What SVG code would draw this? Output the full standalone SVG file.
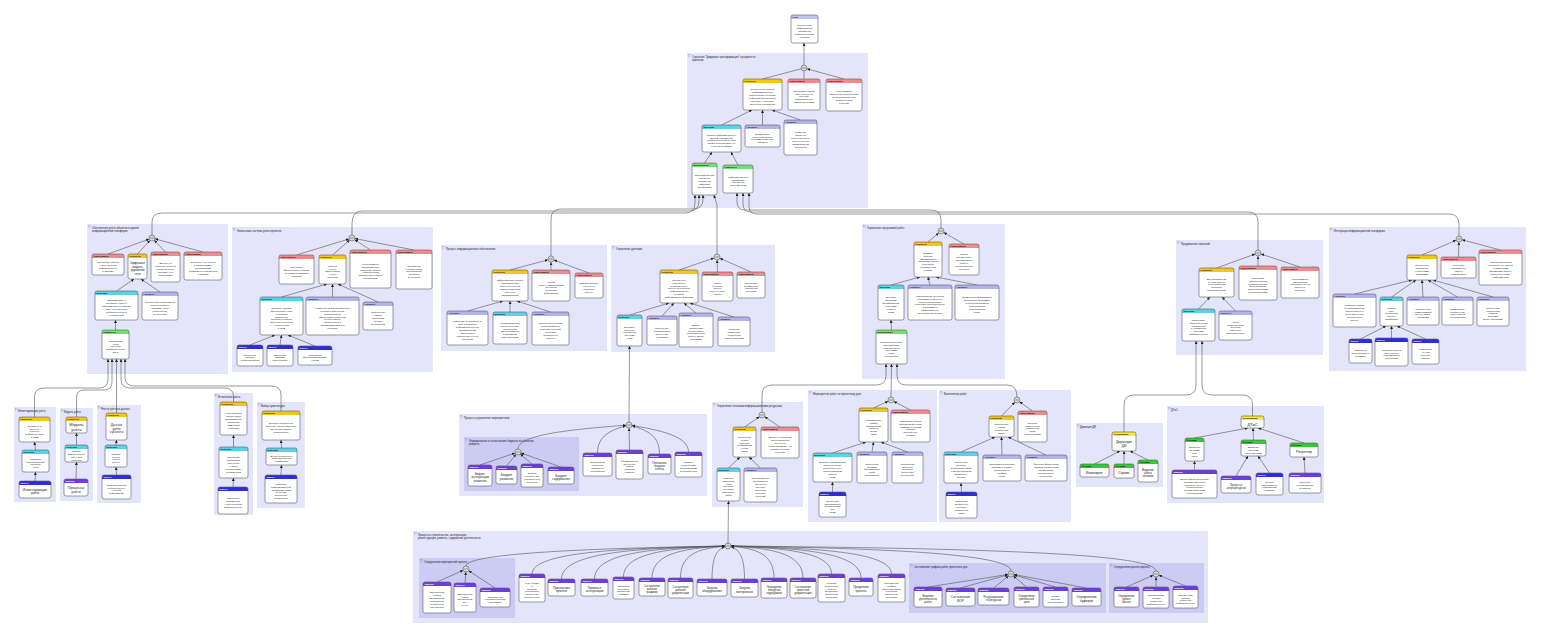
<svg xmlns="http://www.w3.org/2000/svg" width="1541" height="638" viewBox="0 0 1541 638">
<style>
text{font-family:"Liberation Sans",Arial,sans-serif}
.b{stroke:#5a5a5a;stroke-width:.6}
.h{font-size:2.3px;font-weight:bold;fill:#111}
.hw{fill:#fff}
.t{font-size:2.4px;text-anchor:middle;fill:#222}
.f26{font-size:2.6px}.f28{font-size:2.8px}.f3{font-size:3px}.f32{font-size:3.2px}.f34{font-size:3.4px}.f36{font-size:3.6px}.f4{font-size:4px}
.cl{fill:#e4e4fa}.cn{fill:#cbcbf3}
.ic{fill:none;stroke:#8a8ad0;stroke-width:.3}
.cll{font-size:2.6px;fill:#222}
.e,.ej{fill:none;stroke:#555;stroke-width:.6}
.e{marker-end:url(#a)}.ej{marker-end:url(#aj)}
.jc{fill:#d4dcd4;stroke:#444;stroke-width:.5}
.jl{stroke:#444;stroke-width:.5}
</style>
<defs>
<marker id="a" viewBox="0 0 10 10" refX="10" refY="5" markerWidth="3" markerHeight="3" orient="auto" markerUnits="userSpaceOnUse"><path d="M0,0L10,5L0,10z" fill="#222"/></marker>
<marker id="aj" viewBox="0 0 10 10" refX="20.7" refY="5" markerWidth="3" markerHeight="3" orient="auto" markerUnits="userSpaceOnUse"><path d="M0,0L10,5L0,10z" fill="#222"/></marker>
<g id="jn"><circle r="3" class="jc"/><path d="M-1.8,0H1.8" class="jl"/></g>
<linearGradient id="gC" gradientUnits="userSpaceOnUse" x1="0" y1="0" x2="0" y2="10"><stop offset=".42" stop-color="#c4c4f4"/><stop offset=".42" stop-color="#fff"/></linearGradient>
<linearGradient id="gR" gradientUnits="userSpaceOnUse" x1="0" y1="0" x2="0" y2="10"><stop offset=".42" stop-color="#f5c518"/><stop offset=".42" stop-color="#fff"/></linearGradient>
<linearGradient id="gO" gradientUnits="userSpaceOnUse" x1="0" y1="0" x2="0" y2="10"><stop offset=".42" stop-color="#f4898b"/><stop offset=".42" stop-color="#fff"/></linearGradient>
<linearGradient id="gD" gradientUnits="userSpaceOnUse" x1="0" y1="0" x2="0" y2="10"><stop offset=".42" stop-color="#5ad2ea"/><stop offset=".42" stop-color="#fff"/></linearGradient>
<linearGradient id="gA" gradientUnits="userSpaceOnUse" x1="0" y1="0" x2="0" y2="10"><stop offset=".42" stop-color="#b3b3ef"/><stop offset=".42" stop-color="#fff"/></linearGradient>
<linearGradient id="gP" gradientUnits="userSpaceOnUse" x1="0" y1="0" x2="0" y2="10"><stop offset=".42" stop-color="#2d2de0"/><stop offset=".42" stop-color="#fff"/></linearGradient>
<linearGradient id="gM" gradientUnits="userSpaceOnUse" x1="0" y1="0" x2="0" y2="10"><stop offset=".42" stop-color="#74e074"/><stop offset=".42" stop-color="#fff"/></linearGradient>
<linearGradient id="gF" gradientUnits="userSpaceOnUse" x1="0" y1="0" x2="0" y2="10"><stop offset=".42" stop-color="#2fcf2f"/><stop offset=".42" stop-color="#fff"/></linearGradient>
<linearGradient id="gT" gradientUnits="userSpaceOnUse" x1="0" y1="0" x2="0" y2="10"><stop offset=".42" stop-color="#6b3be6"/><stop offset=".42" stop-color="#fff"/></linearGradient>
<linearGradient id="gY" gradientUnits="userSpaceOnUse" x1="0" y1="0" x2="0" y2="10"><stop offset=".42" stop-color="#f7ef1a"/><stop offset=".42" stop-color="#fff"/></linearGradient>
</defs>
<rect width="1541" height="638" fill="#fff"/>

<g id="clusters">
<g id="cl_main"><rect class="cl" x="687" y="53" width="181" height="155"/><rect class="ic" x="688.5" y="54.5" width="1.6" height="1.6"/><text class="cll" x="692" y="57.5">Стратегия "Цифровая трансформация" в разрезе по</text><text class="cll" x="692" y="60.5">проектам</text></g>
<g id="cl_a"><rect class="cl" x="87" y="224" width="141" height="150"/><rect class="ic" x="88.5" y="225.5" width="1.6" height="1.6"/><text class="cll" x="92" y="228.5">Обеспечение учёта объектов в единой</text><text class="cll" x="92" y="231.5">информационной платформе</text></g>
<g id="cl_b"><rect class="cl" x="232" y="227" width="201" height="145"/><rect class="ic" x="233.5" y="228.5" width="1.6" height="1.6"/><text class="cll" x="237" y="231.5">Финансовая система учёта проектов</text></g>
<g id="cl_c"><rect class="cl" x="441" y="245" width="166" height="106"/><rect class="ic" x="442.5" y="246.5" width="1.6" height="1.6"/><text class="cll" x="446" y="249.5">Процесс информационного обеспечения</text></g>
<g id="cl_d"><rect class="cl" x="611" y="245" width="164" height="107"/><rect class="ic" x="612.5" y="246.5" width="1.6" height="1.6"/><text class="cll" x="616" y="249.5">Управление данными</text></g>
<g id="cl_e"><rect class="cl" x="862" y="224" width="143" height="155"/><rect class="ic" x="863.5" y="225.5" width="1.6" height="1.6"/><text class="cll" x="867" y="228.5">Управление программой работ</text></g>
<g id="cl_f"><rect class="cl" x="1176" y="240" width="147" height="115"/><rect class="ic" x="1177.5" y="241.5" width="1.6" height="1.6"/><text class="cll" x="1181" y="244.5">Продвижение компаний</text></g>
<g id="cl_g"><rect class="cl" x="1329" y="227" width="197" height="144"/><rect class="ic" x="1330.5" y="228.5" width="1.6" height="1.6"/><text class="cll" x="1334" y="231.5">Интеграция информационной платформы</text></g>
<g id="cl_h"><rect class="cl" x="14" y="407" width="42" height="95"/><rect class="ic" x="15.5" y="408.5" width="1.6" height="1.6"/><text class="cll" x="18" y="411.5">Инвентаризация учёта</text></g>
<g id="cl_i"><rect class="cl" x="60" y="408" width="33" height="93"/><rect class="ic" x="61.5" y="409.5" width="1.6" height="1.6"/><text class="cll" x="64" y="412.5">Модель учёта</text></g>
<g id="cl_j"><rect class="cl" x="97" y="405" width="44" height="98"/><rect class="ic" x="98.5" y="406.5" width="1.6" height="1.6"/><text class="cll" x="101" y="409.5">Реестр учётных данных</text></g>
<g id="cl_k"><rect class="cl" x="214" y="393" width="39" height="122"/><rect class="ic" x="215.5" y="394.5" width="1.6" height="1.6"/><text class="cll" x="218" y="397.5">Исполнение учёта</text></g>
<g id="cl_l"><rect class="cl" x="257" y="402" width="48" height="106"/><rect class="ic" x="258.5" y="403.5" width="1.6" height="1.6"/><text class="cll" x="261" y="406.5">Выбор архитектуры</text></g>
<g id="cl_m"><rect class="cl" x="459" y="414" width="248" height="82"/><rect class="ic" x="460.5" y="415.5" width="1.6" height="1.6"/><text class="cll" x="464" y="418.5">Процессы управления мероприятием</text></g>
<g id="cl_m1"><rect class="cn" x="464" y="437" width="115" height="54"/><rect class="ic" x="465.5" y="438.5" width="1.6" height="1.6"/><text class="cll" x="469" y="441.5">Формирование и согласование бюджета по объектам</text><text class="cll" x="469" y="444.5">ремонта</text></g>
<g id="cl_n"><rect class="cl" x="712" y="402" width="91" height="105"/><rect class="ic" x="713.5" y="403.5" width="1.6" height="1.6"/><text class="cll" x="717" y="406.5">Управление сетевыми информационными ресурсами</text></g>
<g id="cl_o"><rect class="cl" x="808" y="390" width="129" height="132"/><rect class="ic" x="809.5" y="391.5" width="1.6" height="1.6"/><text class="cll" x="813" y="394.5">Мероприятия работ по проектному дню</text></g>
<g id="cl_p"><rect class="cl" x="939" y="390" width="132" height="132"/><rect class="ic" x="940.5" y="391.5" width="1.6" height="1.6"/><text class="cll" x="944" y="394.5">Выполнение работ</text></g>
<g id="cl_q"><rect class="cl" x="1076" y="423" width="87" height="64"/><rect class="ic" x="1077.5" y="424.5" width="1.6" height="1.6"/><text class="cll" x="1080" y="427.5">Дирекция ДИ</text></g>
<g id="cl_r"><rect class="cl" x="1167" y="406" width="157" height="97"/><rect class="ic" x="1168.5" y="407.5" width="1.6" height="1.6"/><text class="cll" x="1171" y="410.5">ДТиС</text></g>
<g id="cl_s"><rect class="cl" x="413" y="531" width="795" height="92"/><rect class="ic" x="414.5" y="532.5" width="1.6" height="1.6"/><text class="cll" x="418" y="535.5">Процессы строительства, эксплуатации,</text><text class="cll" x="418" y="538.5">реконструкции, ремонта, содержания деятельности</text></g>
<g id="cl_s1"><rect class="cn" x="419" y="558" width="96" height="60"/><rect class="ic" x="420.5" y="559.5" width="1.6" height="1.6"/><text class="cll" x="424" y="562.5">Определение мероприятий проекта</text></g>
<g id="cl_s2"><rect class="cn" x="909" y="563" width="197" height="50"/><rect class="ic" x="910.5" y="564.5" width="1.6" height="1.6"/><text class="cll" x="914" y="567.5">Составление графика работ проектного дня</text></g>
<g id="cl_s3"><rect class="cn" x="1109" y="563" width="95" height="50"/><rect class="ic" x="1110.5" y="564.5" width="1.6" height="1.6"/><text class="cll" x="1114" y="567.5">Определение рисков проекта</text></g>
</g>

<g id="connectors">
<path class="ej" d="M762.5,79L804,68M804,79L804,68M844,79L804,68"/>
<path class="e" d="M804,65L804,43"/>
<path class="e" d="M721.5,125L752,110"/><path class="e" d="M762.5,125L762.5,110"/><path class="e" d="M800.5,120L772,110"/>
<path class="e" d="M704.5,163L712,152"/><path class="e" d="M738,165L731,152"/>
<path class="e" d="M152,235V222Q152,213 162,213H685Q695,213 695,203V195"/>
<path class="e" d="M352,235V224Q352,211 362,211H689Q699,211 699,201V195"/>
<path class="e" d="M551,256V219Q551,209 561,209H693Q703,209 703,199V195"/>
<path class="e" d="M717,254V205L714,195"/>
<path class="e" d="M941,228V220Q941,210 931,210H745Q737,210 737,202V193"/>
<path class="e" d="M1258,250V222Q1258,212 1248,212H751Q743,212 743,204V193"/>
<path class="e" d="M1459,236V224Q1459,214 1449,214H757Q749,214 749,206V193"/>
<path class="ej" d="M108,254L152,238"/><path class="ej" d="M137.5,254L152,238"/><path class="ej" d="M165.5,252L152,238"/><path class="ej" d="M203,252L152,238"/>
<path class="e" d="M116.5,291L134,279"/><path class="e" d="M160,292L141,279"/><path class="e" d="M115.5,330L115.5,320"/>
<path class="ej" d="M296.5,255L352,238"/><path class="ej" d="M332.5,255L352,238"/><path class="ej" d="M370.5,250L352,238"/><path class="ej" d="M414,250L352,238"/>
<path class="e" d="M281.5,297L327,284"/><path class="e" d="M332.5,297L332.5,284"/><path class="e" d="M378,302L338,284"/>
<path class="e" d="M250,345L275,335"/><path class="e" d="M280,345L281.5,335"/><path class="e" d="M315,346L288,335"/>
<path class="ej" d="M510,270L551,259"/><path class="ej" d="M551,270L551,259"/><path class="ej" d="M589,273L551,259"/>
<path class="e" d="M467.5,311L503,301"/><path class="e" d="M510,312L510,301"/><path class="e" d="M550.5,312L517,301"/>
<path class="ej" d="M679,270L717,257"/><path class="ej" d="M717.5,272L717,257"/><path class="ej" d="M751,272L717,257"/>
<path class="e" d="M629.5,315L669,303"/><path class="e" d="M662,316L674,303"/><path class="e" d="M696,313L684,303"/><path class="e" d="M734,317L690,303"/>
<path class="ej" d="M928,242L941,231"/><path class="ej" d="M964,244L941,231"/>
<path class="e" d="M891,285L920,277"/><path class="e" d="M930,285L928,277"/><path class="e" d="M977,285L936,277"/><path class="e" d="M891.5,330L891,320"/>
<path class="ej" d="M1216.5,268L1258,253"/><path class="ej" d="M1258,266L1258,253"/><path class="ej" d="M1300,267L1258,253"/>
<path class="e" d="M1198.5,309L1210,297"/><path class="e" d="M1235.5,311L1222,297"/>
<path class="ej" d="M1422,255L1459,239"/><path class="ej" d="M1458.5,257L1459,239"/><path class="ej" d="M1500.5,250L1459,239"/>
<path class="e" d="M1354.5,294L1412,280"/><path class="e" d="M1391.5,297L1416,280"/><path class="e" d="M1423,297L1422,280"/><path class="e" d="M1457.5,297L1428,280"/><path class="e" d="M1493,297L1433,280"/>
<path class="e" d="M1360.5,339L1386,326"/><path class="e" d="M1391.5,338L1391.5,326"/><path class="e" d="M1425.5,339L1397,326"/>
<path class="e" d="M34.5,417V397Q34.5,388 44,388H99Q108,388 108,379V359"/>
<path class="e" d="M76.5,417V398Q76.5,390 84,390H104Q112,390 112,382V359"/>
<path class="e" d="M116.5,413V359"/>
<path class="e" d="M233.5,402V396Q233.5,388 224,388H130Q121,388 121,379V359"/>
<path class="e" d="M281,411V395Q281,386 271,386H134Q125,386 125,377V359"/>
<path class="e" d="M35.5,450L34.5,442"/><path class="e" d="M35,481L35.5,472"/>
<path class="e" d="M76.5,445L76.5,433"/><path class="e" d="M76,479L76.5,462"/>
<path class="e" d="M116,445L116.5,440"/><path class="e" d="M116.5,475L116,467"/>
<path class="e" d="M233.5,447L233.5,435"/><path class="e" d="M233,487L233.5,478"/>
<path class="e" d="M281.5,448L281,440"/><path class="e" d="M281,475L281.5,465"/>
<path class="ej" d="M480,465L518,452"/><path class="ej" d="M506.5,466L518,452"/><path class="ej" d="M532,464L518,452"/><path class="ej" d="M561,467L518,452"/>
<path class="ej" d="M518,449C518,436 560,430 629,425"/>
<path class="ej" d="M597.5,453C597.5,436 610,430 629,425"/>
<path class="ej" d="M629.5,450L629,425"/>
<path class="ej" d="M659.5,454C659.5,436 648,430 629,425"/>
<path class="ej" d="M688.5,452C688.5,436 660,430 629,425"/>
<path class="e" d="M629,422L629.5,346"/>
<path class="ej" d="M744.5,427L762,415"/><path class="ej" d="M780,427L762,415"/>
<path class="e" d="M728.5,468L740,457"/><path class="e" d="M760.5,468L749,457"/>
<path class="e" d="M762,412V395Q762,385 772,385H876Q886,385 886,375V364"/>
<path class="e" d="M728,543L728.5,501"/>
<path class="ej" d="M873.5,408L891,400"/><path class="ej" d="M910.5,410L891,400"/>
<path class="e" d="M832.5,453L866,442"/><path class="e" d="M872,452L873.5,442"/><path class="e" d="M907.5,452L881,442"/><path class="e" d="M832.5,492L832.5,482"/>
<path class="e" d="M891,397L891.5,364"/>
<path class="ej" d="M1001.5,416L1017,400"/><path class="ej" d="M1032.5,411L1017,400"/>
<path class="e" d="M961,452L995,437"/><path class="e" d="M1002,455L1001.5,437"/><path class="e" d="M1046,455L1008,437"/><path class="e" d="M961.5,492L961,483"/>
<path class="e" d="M1017,397Q1017,385 1007,385H906Q897,385 897,375V364"/>
<path class="e" d="M1094.5,464L1120,451"/><path class="e" d="M1124,464L1124,451"/><path class="e" d="M1148,460L1130,451"/>
<path class="e" d="M1124,432V405Q1124,395 1134,395H1186Q1196,395 1196,385V341"/>
<path class="e" d="M1194.5,438L1248,428"/><path class="e" d="M1253.5,440L1253,428"/><path class="e" d="M1304,443L1258,428"/>
<path class="e" d="M1194.5,470L1194.5,461"/><path class="e" d="M1236,476L1248,456"/><path class="e" d="M1269.5,473L1258,456"/><path class="e" d="M1305,473L1304,457"/>
<path class="e" d="M1252.5,416V405Q1252.5,395 1242.5,395H1212Q1202,395 1202,385V341"/>
<path class="ej" d="M466,566C466,553 597,548 728,546"/>
<path class="ej" d="M532,574C532,551 630,548 728,546"/>
<path class="ej" d="M561.5,579C561.5,551 645,548 728,546"/>
<path class="ej" d="M594.5,579C594.5,551 661,548 728,546"/>
<path class="ej" d="M623.5,577C623.5,551 676,548 728,546"/>
<path class="ej" d="M652,578C652,551 690,548 728,546"/>
<path class="ej" d="M680.5,578C680.5,551 704,548 728,546"/>
<path class="ej" d="M712,579C712,551 720,548 728,546"/>
<path class="ej" d="M744.5,579C744.5,551 736,548 728,546"/>
<path class="ej" d="M774,578C774,551 751,548 728,546"/>
<path class="ej" d="M803,578C803,551 765,548 728,546"/>
<path class="ej" d="M831.5,574C831.5,551 780,548 728,546"/>
<path class="ej" d="M861,578C861,551 794,548 728,546"/>
<path class="ej" d="M891.5,574C891.5,551 810,548 728,546"/>
<path class="ej" d="M1011,571C1011,553 870,548 728,546"/>
<path class="ej" d="M1156,571C1156,552 942,548 728,546"/>
<path class="ej" d="M437,582L466,569"/><path class="ej" d="M465,583L466,569"/><path class="ej" d="M495,588L466,569"/>
<path class="ej" d="M928,587L1011,574"/><path class="ej" d="M960.5,588L1011,574"/><path class="ej" d="M993.5,588L1011,574"/><path class="ej" d="M1026.5,587L1011,574"/><path class="ej" d="M1055.5,587L1011,574"/><path class="ej" d="M1086.5,588L1011,574"/>
<path class="ej" d="M1126.5,587L1156,574"/><path class="ej" d="M1156,587L1156,574"/><path class="ej" d="M1185.5,586L1156,574"/>
</g>

<g id="junctions">
<use href="#jn" x="804" y="68"/><use href="#jn" x="152" y="238"/><use href="#jn" x="352" y="238"/><use href="#jn" x="551" y="259"/><use href="#jn" x="717" y="257"/><use href="#jn" x="941" y="231"/><use href="#jn" x="1258" y="253"/><use href="#jn" x="1459" y="239"/><use href="#jn" x="629" y="425"/><use href="#jn" x="518" y="452"/><use href="#jn" x="762" y="415"/><use href="#jn" x="891" y="400"/><use href="#jn" x="1017" y="400"/><use href="#jn" x="728" y="546"/><use href="#jn" x="466" y="569"/><use href="#jn" x="1011" y="574"/><use href="#jn" x="1156" y="574"/>
</g>

<g id="nodes">
<g id="goal" transform="translate(804.5,15)"><rect class="b" x="-13.5" width="27" height="28" rx="2" fill="url(#gC)"/><text class="h" x="-12" y="3.2">Цель</text><text class="t" y="11.1"><tspan x="0">Обеспечение</tspan><tspan x="0" dy="2.9">эффективного</tspan><tspan x="0" dy="2.9">управления</tspan><tspan x="0" dy="2.9">инфраструктурой</tspan><tspan x="0" dy="2.9">отрасли</tspan></text></g>

<g id="c1_res" transform="translate(762.5,79)"><rect class="b" x="-19.5" width="39" height="31" rx="2" fill="url(#gR)"/><text class="h" x="-18" y="3.2">Результат</text><text class="t" y="11.2"><tspan x="0">Обеспечение единого</tspan><tspan x="0" dy="2.9">информационного</tspan><tspan x="0" dy="2.9">пространства на основе</tspan><tspan x="0" dy="2.9">цифровой модели дорог</tspan><tspan x="0" dy="2.9">для всех участников</tspan><tspan x="0" dy="2.9">процессов управления</tspan></text></g>
<g id="c1_ob1" transform="translate(804,79)"><rect class="b" x="-16" width="32" height="31" rx="2" fill="url(#gO)"/><text class="h" x="-14.5" y="3.2">Обоснование</text><text class="t" y="12.6"><tspan x="0">Отсутствие единой</tspan><tspan x="0" dy="2.9">базы данных об</tspan><tspan x="0" dy="2.9">объектах</tspan><tspan x="0" dy="2.9">инфраструктуры</tspan><tspan x="0" dy="2.9">затрудняет анализ</tspan></text></g>
<g id="c1_ob2" transform="translate(844,79)"><rect class="b" x="-18" width="36" height="32" rx="2" fill="url(#gO)"/><text class="h" x="-16.5" y="3.2">Обоснование</text><text class="t" y="13.1"><tspan x="0">Необходимость</tspan><tspan x="0" dy="2.9">повышения прозрачности</tspan><tspan x="0" dy="2.9">и скорости принятия</tspan><tspan x="0" dy="2.9">управленческих</tspan><tspan x="0" dy="2.9">решений</tspan></text></g>
<g id="c1_act" transform="translate(721.5,125)"><rect class="b" x="-19.5" width="39" height="27" rx="2" fill="url(#gD)"/><text class="h" x="-18" y="3.2">Действие</text><text class="t" y="10.6"><tspan x="0">Создать информационную</tspan><tspan x="0" dy="2.9">систему управления</tspan><tspan x="0" dy="2.9">инфраструктурой на базе</tspan><tspan x="0" dy="2.9">ЦМД и интегрировать её</tspan><tspan x="0" dy="2.9">с ИТ-ландшафтом</tspan></text></g>
<g id="c1_arg1" transform="translate(762.5,125)"><rect class="b" x="-17.5" width="35" height="22" rx="2" fill="url(#gA)"/><text class="h" x="-16" y="3.2">Аргумент</text><text class="t" y="9.6"><tspan x="0">Возможность</tspan><tspan x="0" dy="2.9">получения данных</tspan><tspan x="0" dy="2.9">в режиме реального</tspan><tspan x="0" dy="2.9">времени</tspan></text></g>
<g id="c1_arg2" transform="translate(800.5,120)"><rect class="b" x="-16.5" width="33" height="35" rx="2" fill="url(#gA)"/><text class="h" x="-15" y="3.2">Аргумент</text><text class="t" y="13.2"><tspan x="0">Снижение</tspan><tspan x="0" dy="2.9">затрат на</tspan><tspan x="0" dy="2.9">сбор и обработку</tspan><tspan x="0" dy="2.9">данных за счёт</tspan><tspan x="0" dy="2.9">автоматизации</tspan><tspan x="0" dy="2.9">процессов</tspan></text></g>
<g id="c1_mer" transform="translate(704.5,163)"><rect class="b" x="-12.5" width="25" height="32" rx="2" fill="url(#gM)"/><text class="h" x="-11" y="3.2">Мероприятие</text><text class="t" y="13.1"><tspan x="0">Организационная</tspan><tspan x="0" dy="2.9">структура</tspan><tspan x="0" dy="2.9">управления</tspan><tspan x="0" dy="2.9">цифровой</tspan><tspan x="0" dy="2.9">платформой</tspan></text></g>
<g id="c1_cmp" transform="translate(738,165)"><rect class="b" x="-15" width="30" height="28" rx="2" fill="url(#gM)"/><text class="h" x="-13.5" y="3.2">Компонент</text><text class="t" y="12.6"><tspan x="0">Информационная</tspan><tspan x="0" dy="2.9">платформа</tspan><tspan x="0" dy="2.9">управления</tspan><tspan x="0" dy="2.9">данными ЦМД</tspan></text></g>

<g id="a_ob1" transform="translate(108,254)"><rect class="b" x="-16" width="32" height="21" rx="2" fill="url(#gO)"/><text class="h" x="-14.5" y="3.2">Обоснование</text><text class="t" y="9.1"><tspan x="0">Отсутствие единого</tspan><tspan x="0" dy="2.9">учёта объектов</tspan><tspan x="0" dy="2.9">инфраструктуры</tspan><tspan x="0" dy="2.9">в системе</tspan></text></g>
<g id="a_res" transform="translate(137.5,254)"><rect class="b" x="-9.5" width="19" height="25" rx="2" fill="url(#gR)"/><text class="h" x="-8" y="3.2">Результат</text><text class="t f3" y="10.4"><tspan x="0">Цифровая</tspan><tspan x="0" dy="3.4">модель</tspan><tspan x="0" dy="3.4">дорожной</tspan><tspan x="0" dy="3.4">сети</tspan></text></g>
<g id="a_ob2" transform="translate(165.5,252)"><rect class="b" x="-14.5" width="29" height="30" rx="2" fill="url(#gO)"/><text class="h" x="-13" y="3.2">Обоснование</text><text class="t" y="12.1"><tspan x="0">Данные об</tspan><tspan x="0" dy="2.9">объектах хранятся</tspan><tspan x="0" dy="2.9">в разрозненных</tspan><tspan x="0" dy="2.9">системах и не</tspan><tspan x="0" dy="2.9">сопоставимы</tspan></text></g>
<g id="a_ob3" transform="translate(203,252)"><rect class="b" x="-19" width="38" height="28" rx="2" fill="url(#gO)"/><text class="h" x="-17.5" y="3.2">Обоснование</text><text class="t" y="11.1"><tspan x="0">Требуется учёт данных</tspan><tspan x="0" dy="2.9">в соответствии с</tspan><tspan x="0" dy="2.9">требованиями</tspan><tspan x="0" dy="2.9">нормативных документов</tspan><tspan x="0" dy="2.9">в отрасли</tspan></text></g>
<g id="a_act" transform="translate(116.5,291)"><rect class="b" x="-21.5" width="43" height="29" rx="2" fill="url(#gD)"/><text class="h" x="-20" y="3.2">Действие</text><text class="t" y="10.2"><tspan x="0">Сформировать и</tspan><tspan x="0" dy="2.9">обновлять единую</tspan><tspan x="0" dy="2.9">информационную модель</tspan><tspan x="0" dy="2.9">для учёта объектов</tspan><tspan x="0" dy="2.9">инфраструктуры и</tspan><tspan x="0" dy="2.9">участков сети</tspan></text></g>
<g id="a_arg" transform="translate(160,292)"><rect class="b" x="-18" width="36" height="28" rx="2" fill="url(#gA)"/><text class="h" x="-16.5" y="3.2">Аргумент</text><text class="t" y="11.1"><tspan x="0">Исключение дублирования</tspan><tspan x="0" dy="2.9">данных в разных</tspan><tspan x="0" dy="2.9">системах учёта</tspan><tspan x="0" dy="2.9">и повышение</tspan><tspan x="0" dy="2.9">их качества</tspan></text></g>
<g id="a_cmp" transform="translate(115.5,330)"><rect class="b" x="-13.5" width="27" height="29" rx="2" fill="url(#gM)"/><text class="h" x="-12" y="3.2">Компонент</text><text class="t" y="11.6"><tspan x="0">Подсистема</tspan><tspan x="0" dy="2.9">учёта</tspan><tspan x="0" dy="2.9">объектов</tspan><tspan x="0" dy="2.9">инфраструктуры</tspan><tspan x="0" dy="2.9">дорог</tspan></text></g>

<g id="b_ob1" transform="translate(296.5,255)"><rect class="b" x="-17.5" width="35" height="29" rx="2" fill="url(#gO)"/><text class="h" x="-16" y="3.2">Обоснование</text><text class="t" y="13.1"><tspan x="0">Отсутствие</tspan><tspan x="0" dy="2.9">финансового контроля</tspan><tspan x="0" dy="2.9">за ходом реализации</tspan><tspan x="0" dy="2.9">проектов</tspan></text></g>
<g id="b_res" transform="translate(332.5,255)"><rect class="b" x="-13.5" width="27" height="29" rx="2" fill="url(#gR)"/><text class="h" x="-12" y="3.2">Результат</text><text class="t" y="11.6"><tspan x="0">Единый</tspan><tspan x="0" dy="2.9">контур</tspan><tspan x="0" dy="2.9">финансового</tspan><tspan x="0" dy="2.9">учёта</tspan><tspan x="0" dy="2.9">проектов</tspan></text></g>
<g id="b_ob2" transform="translate(370.5,250)"><rect class="b" x="-20.5" width="41" height="38" rx="2" fill="url(#gO)"/><text class="h" x="-19" y="3.2">Обоснование</text><text class="t" y="14.7"><tspan x="0">Необходимость</tspan><tspan x="0" dy="2.9">своевременного</tspan><tspan x="0" dy="2.9">получения данных</tspan><tspan x="0" dy="2.9">о фактическом</tspan><tspan x="0" dy="2.9">исполнении бюджета</tspan><tspan x="0" dy="2.9">по проектам</tspan></text></g>
<g id="b_ob3" transform="translate(414,250)"><rect class="b" x="-18" width="36" height="39" rx="2" fill="url(#gO)"/><text class="h" x="-16.5" y="3.2">Обоснование</text><text class="t" y="16.6"><tspan x="0">Требования</tspan><tspan x="0" dy="2.9">к прозрачности</tspan><tspan x="0" dy="2.9">расходования</tspan><tspan x="0" dy="2.9">средств и</tspan><tspan x="0" dy="2.9">отчётности</tspan></text></g>
<g id="b_act" transform="translate(281.5,297)"><rect class="b" x="-21.5" width="43" height="38" rx="2" fill="url(#gD)"/><text class="h" x="-20" y="3.2">Действие</text><text class="t" y="11.8"><tspan x="0">Внедрить систему</tspan><tspan x="0" dy="2.9">финансового учёта</tspan><tspan x="0" dy="2.9">и контроля</tspan><tspan x="0" dy="2.9">исполнения</tspan><tspan x="0" dy="2.9">бюджета в разрезе</tspan><tspan x="0" dy="2.9">проектов и объектов</tspan><tspan x="0" dy="2.9">с интеграцией</tspan><tspan x="0" dy="2.9">в ЦМД</tspan></text></g>
<g id="b_arg1" transform="translate(332.5,297)"><rect class="b" x="-26.5" width="53" height="38" rx="2" fill="url(#gA)"/><text class="h" x="-25" y="3.2">Аргумент</text><text class="t" y="11.8"><tspan x="0">Снижение рисков перерасхода</tspan><tspan x="0" dy="2.9">средств и повышение</tspan><tspan x="0" dy="2.9">достоверности</tspan><tspan x="0" dy="2.9">финансовой отчётности</tspan><tspan x="0" dy="2.9">за счёт единых</tspan><tspan x="0" dy="2.9">справочников и</tspan><tspan x="0" dy="2.9">автоматизированного</tspan><tspan x="0" dy="2.9">контроля</tspan></text></g>
<g id="b_arg2" transform="translate(378,302)"><rect class="b" x="-15" width="30" height="28" rx="2" fill="url(#gA)"/><text class="h" x="-13.5" y="3.2">Аргумент</text><text class="t" y="11.1"><tspan x="0">Сокращение</tspan><tspan x="0" dy="2.9">сроков</tspan><tspan x="0" dy="2.9">подготовки</tspan><tspan x="0" dy="2.9">отчётов</tspan><tspan x="0" dy="2.9">по проектам</tspan></text></g>
<g id="b_prj1" transform="translate(250,345)"><rect class="b" x="-13" width="26" height="21" rx="2" fill="url(#gP)"/><text class="h hw" x="-11.5" y="3.2">Проект</text><text class="t" y="10.5"><tspan x="0">Внедрение</tspan><tspan x="0" dy="2.9">системы</tspan><tspan x="0" dy="2.9">бюджетирования</tspan></text></g>
<g id="b_prj2" transform="translate(280,345)"><rect class="b" x="-13" width="26" height="21" rx="2" fill="url(#gP)"/><text class="h hw" x="-11.5" y="3.2">Проект</text><text class="t" y="10.5"><tspan x="0">Внедрение</tspan><tspan x="0" dy="2.9">системы</tspan><tspan x="0" dy="2.9">казначейства</tspan></text></g>
<g id="b_prj3" transform="translate(315,346)"><rect class="b" x="-17" width="34" height="19" rx="2" fill="url(#gP)"/><text class="h hw" x="-15.5" y="3.2">Проект</text><text class="t" y="9.5"><tspan x="0">Интеграция</tspan><tspan x="0" dy="2.9">финансовой системы</tspan><tspan x="0" dy="2.9">с ЦМД</tspan></text></g>

<g id="c_res" transform="translate(510,270)"><rect class="b" x="-18" width="36" height="31" rx="2" fill="url(#gR)"/><text class="h" x="-16.5" y="3.2">Результат</text><text class="t" y="11.2"><tspan x="0">Эффективность работы</tspan><tspan x="0" dy="2.9">подразделений</tspan><tspan x="0" dy="2.9">повышена за счёт</tspan><tspan x="0" dy="2.9">единого источника</tspan><tspan x="0" dy="2.9">данных и</tspan><tspan x="0" dy="2.9">автоматизации</tspan></text></g>
<g id="c_ob1" transform="translate(551,270)"><rect class="b" x="-19" width="38" height="31" rx="2" fill="url(#gO)"/><text class="h" x="-17.5" y="3.2">Обоснование</text><text class="t" y="12.6"><tspan x="0">Низкий</tspan><tspan x="0" dy="2.9">уровень автоматизации</tspan><tspan x="0" dy="2.9">процессов</tspan><tspan x="0" dy="2.9">обработки</tspan><tspan x="0" dy="2.9">информации</tspan></text></g>
<g id="c_ob2" transform="translate(589,273)"><rect class="b" x="-14" width="28" height="25" rx="2" fill="url(#gO)"/><text class="h" x="-12.5" y="3.2">Обоснование</text><text class="t" y="11.1"><tspan x="0">Высокие затраты</tspan><tspan x="0" dy="2.9">на ручную</tspan><tspan x="0" dy="2.9">обработку</tspan><tspan x="0" dy="2.9">данных</tspan></text></g>
<g id="c_arg1" transform="translate(467.5,311)"><rect class="b" x="-20.5" width="41" height="34" rx="2" fill="url(#gA)"/><text class="h" x="-19" y="3.2">Аргумент</text><text class="t" y="11.2"><tspan x="0">Снижение трудозатрат на</tspan><tspan x="0" dy="2.9">сбор и обработку</tspan><tspan x="0" dy="2.9">информации за счёт</tspan><tspan x="0" dy="2.9">автоматизации</tspan><tspan x="0" dy="2.9">процессов и</tspan><tspan x="0" dy="2.9">сокращения ручных</tspan><tspan x="0" dy="2.9">операций</tspan></text></g>
<g id="c_act" transform="translate(510,312)"><rect class="b" x="-17" width="34" height="32" rx="2" fill="url(#gD)"/><text class="h" x="-15.5" y="3.2">Действие</text><text class="t" y="11.7"><tspan x="0">Автоматизировать</tspan><tspan x="0" dy="2.9">процессы сбора,</tspan><tspan x="0" dy="2.9">обработки и</tspan><tspan x="0" dy="2.9">предоставления</tspan><tspan x="0" dy="2.9">информации</tspan><tspan x="0" dy="2.9">пользователям</tspan></text></g>
<g id="c_arg2" transform="translate(550.5,312)"><rect class="b" x="-18.5" width="37" height="33" rx="2" fill="url(#gA)"/><text class="h" x="-17" y="3.2">Аргумент</text><text class="t" y="12.2"><tspan x="0">Повышение качества</tspan><tspan x="0" dy="2.9">и оперативности</tspan><tspan x="0" dy="2.9">принятия решений</tspan><tspan x="0" dy="2.9">на основе</tspan><tspan x="0" dy="2.9">достоверных</tspan><tspan x="0" dy="2.9">данных</tspan></text></g>

<g id="d_res" transform="translate(679,270)"><rect class="b" x="-19" width="38" height="33" rx="2" fill="url(#gR)"/><text class="h" x="-17.5" y="3.2">Результат</text><text class="t" y="10.7"><tspan x="0">Обеспечена</tspan><tspan x="0" dy="2.9">целостность</tspan><tspan x="0" dy="2.9">и актуальность</tspan><tspan x="0" dy="2.9">данных об объектах</tspan><tspan x="0" dy="2.9">инфраструктуры</tspan><tspan x="0" dy="2.9">в единой</tspan><tspan x="0" dy="2.9">информационной модели</tspan></text></g>
<g id="d_ob1" transform="translate(717.5,272)"><rect class="b" x="-15.5" width="31" height="29" rx="2" fill="url(#gO)"/><text class="h" x="-14" y="3.2">Обоснование</text><text class="t" y="11.6"><tspan x="0">Низкое</tspan><tspan x="0" dy="2.9">качество</tspan><tspan x="0" dy="2.9">данных</tspan><tspan x="0" dy="2.9">из-за ручного</tspan><tspan x="0" dy="2.9">ввода</tspan></text></g>
<g id="d_ob2" transform="translate(751,272)"><rect class="b" x="-14" width="28" height="26" rx="2" fill="url(#gO)"/><text class="h" x="-12.5" y="3.2">Обоснование</text><text class="t" y="11.6"><tspan x="0">Отсутствие</tspan><tspan x="0" dy="2.9">регламентов</tspan><tspan x="0" dy="2.9">управления</tspan><tspan x="0" dy="2.9">данными</tspan></text></g>
<g id="d_act" transform="translate(629.5,315)"><rect class="b" x="-12.5" width="25" height="31" rx="2" fill="url(#gD)"/><text class="h" x="-11" y="3.2">Действие</text><text class="t" y="12.6"><tspan x="0">Внедрить</tspan><tspan x="0" dy="2.9">процессы</tspan><tspan x="0" dy="2.9">управления</tspan><tspan x="0" dy="2.9">данными</tspan><tspan x="0" dy="2.9">(НСИ)</tspan></text></g>
<g id="d_arg1" transform="translate(662,316)"><rect class="b" x="-15" width="30" height="29" rx="2" fill="url(#gA)"/><text class="h" x="-13.5" y="3.2">Аргумент</text><text class="t" y="13.1"><tspan x="0">Повышение</tspan><tspan x="0" dy="2.9">достоверности</tspan><tspan x="0" dy="2.9">данных для</tspan><tspan x="0" dy="2.9">аналитики</tspan></text></g>
<g id="d_arg2" transform="translate(696,313)"><rect class="b" x="-17" width="34" height="34" rx="2" fill="url(#gA)"/><text class="h" x="-15.5" y="3.2">Аргумент</text><text class="t" y="12.7"><tspan x="0">Единые</tspan><tspan x="0" dy="2.9">справочники</tspan><tspan x="0" dy="2.9">обеспечивают</tspan><tspan x="0" dy="2.9">согласованность</tspan><tspan x="0" dy="2.9">данных между</tspan><tspan x="0" dy="2.9">системами</tspan></text></g>
<g id="d_arg3" transform="translate(734,317)"><rect class="b" x="-16" width="32" height="29" rx="2" fill="url(#gA)"/><text class="h" x="-14.5" y="3.2">Аргумент</text><text class="t" y="13.1"><tspan x="0">Снижение</tspan><tspan x="0" dy="2.9">количества</tspan><tspan x="0" dy="2.9">ошибок при</tspan><tspan x="0" dy="2.9">обмене данными</tspan></text></g>

<g id="e_res" transform="translate(928,242)"><rect class="b" x="-14" width="28" height="35" rx="2" fill="url(#gR)"/><text class="h" x="-12.5" y="3.2">Результат</text><text class="t" y="11.7"><tspan x="0">В рамках</tspan><tspan x="0" dy="2.9">проекта</tspan><tspan x="0" dy="2.9">сформирована</tspan><tspan x="0" dy="2.9">программа работ</tspan><tspan x="0" dy="2.9">и контроль</tspan><tspan x="0" dy="2.9">её исполнения</tspan><tspan x="0" dy="2.9">в ЦМД</tspan></text></g>
<g id="e_ob" transform="translate(964,244)"><rect class="b" x="-15" width="30" height="31" rx="2" fill="url(#gO)"/><text class="h" x="-13.5" y="3.2">Обоснование</text><text class="t" y="11.2"><tspan x="0">Низкая</tspan><tspan x="0" dy="2.9">прозрачность</tspan><tspan x="0" dy="2.9">планирования</tspan><tspan x="0" dy="2.9">работ и</tspan><tspan x="0" dy="2.9">распределения</tspan><tspan x="0" dy="2.9">ресурсов</tspan></text></g>
<g id="e_act" transform="translate(891,285)"><rect class="b" x="-13" width="26" height="35" rx="2" fill="url(#gD)"/><text class="h" x="-11.5" y="3.2">Действие</text><text class="t" y="13.2"><tspan x="0">Внедрить</tspan><tspan x="0" dy="2.9">механизм</tspan><tspan x="0" dy="2.9">формирования</tspan><tspan x="0" dy="2.9">программ</tspan><tspan x="0" dy="2.9">работ в</tspan><tspan x="0" dy="2.9">ЦМД</tspan></text></g>
<g id="e_arg1" transform="translate(930,285)"><rect class="b" x="-22" width="44" height="35" rx="2" fill="url(#gA)"/><text class="h" x="-20.5" y="3.2">Аргумент</text><text class="t" y="11.7"><tspan x="0">Планирование на основе</tspan><tspan x="0" dy="2.9">объективных данных о</tspan><tspan x="0" dy="2.9">состоянии объектов</tspan><tspan x="0" dy="2.9">повышает обоснованность</tspan><tspan x="0" dy="2.9">программы и</tspan><tspan x="0" dy="2.9">эффективность</tspan><tspan x="0" dy="2.9">расходования средств</tspan></text></g>
<g id="e_arg2" transform="translate(977,285)"><rect class="b" x="-22" width="44" height="35" rx="2" fill="url(#gA)"/><text class="h" x="-20.5" y="3.2">Аргумент</text><text class="t" y="13.2"><tspan x="0">Возможность мониторинга</tspan><tspan x="0" dy="2.9">исполнения программы</tspan><tspan x="0" dy="2.9">в реальном времени</tspan><tspan x="0" dy="2.9">и оперативной</tspan><tspan x="0" dy="2.9">корректировки</tspan><tspan x="0" dy="2.9">работ</tspan></text></g>
<g id="e_mer" transform="translate(891.5,330)"><rect class="b" x="-15.5" width="31" height="34" rx="2" fill="url(#gM)"/><text class="h" x="-14" y="3.2">Мероприятие</text><text class="t" y="12.7"><tspan x="0">Внедрение системы</tspan><tspan x="0" dy="2.9">планирования</tspan><tspan x="0" dy="2.9">и мониторинга</tspan><tspan x="0" dy="2.9">программы</tspan><tspan x="0" dy="2.9">работ</tspan><tspan x="0" dy="2.9">на объектах</tspan></text></g>

<g id="f_res" transform="translate(1216.5,268)"><rect class="b" x="-17.5" width="35" height="29" rx="2" fill="url(#gR)"/><text class="h" x="-16" y="3.2">Результат</text><text class="t" y="11.6"><tspan x="0">Для продвижения</tspan><tspan x="0" dy="2.9">и учёта данных</tspan><tspan x="0" dy="2.9">по организации</tspan><tspan x="0" dy="2.9">передачи</tspan><tspan x="0" dy="2.9">ответственности</tspan></text></g>
<g id="f_ob1" transform="translate(1258,266)"><rect class="b" x="-19" width="38" height="34" rx="2" fill="url(#gO)"/><text class="h" x="-17.5" y="3.2">Обоснование</text><text class="t" y="12.7"><tspan x="0">Отсутствие</tspan><tspan x="0" dy="2.9">единого подхода</tspan><tspan x="0" dy="2.9">к распределению</tspan><tspan x="0" dy="2.9">функций между</tspan><tspan x="0" dy="2.9">подразделениями</tspan><tspan x="0" dy="2.9">и организациями</tspan></text></g>
<g id="f_ob2" transform="translate(1300,267)"><rect class="b" x="-19" width="38" height="31" rx="2" fill="url(#gO)"/><text class="h" x="-17.5" y="3.2">Обоснование</text><text class="t" y="12.6"><tspan x="0">Необходимость</tspan><tspan x="0" dy="2.9">определения</tspan><tspan x="0" dy="2.9">ответственных за</tspan><tspan x="0" dy="2.9">данные и</tspan><tspan x="0" dy="2.9">процессы</tspan></text></g>
<g id="f_act" transform="translate(1198.5,309)"><rect class="b" x="-16.5" width="33" height="32" rx="2" fill="url(#gD)"/><text class="h" x="-15" y="3.2">Действие</text><text class="t" y="11.7"><tspan x="0">Определить</tspan><tspan x="0" dy="2.9">роли и функции</tspan><tspan x="0" dy="2.9">организаций</tspan><tspan x="0" dy="2.9">в управлении</tspan><tspan x="0" dy="2.9">данными</tspan><tspan x="0" dy="2.9">инфраструктуры</tspan></text></g>
<g id="f_arg" transform="translate(1235.5,311)"><rect class="b" x="-16.5" width="33" height="29" rx="2" fill="url(#gA)"/><text class="h" x="-15" y="3.2">Аргумент</text><text class="t" y="11.6"><tspan x="0">Чёткое</tspan><tspan x="0" dy="2.9">распределение</tspan><tspan x="0" dy="2.9">функций</tspan><tspan x="0" dy="2.9">повышает</tspan><tspan x="0" dy="2.9">ответственность</tspan></text></g>

<g id="g_res" transform="translate(1422,255)"><rect class="b" x="-15" width="30" height="25" rx="2" fill="url(#gR)"/><text class="h" x="-13.5" y="3.2">Результат</text><text class="t" y="11.1"><tspan x="0">Обеспечена</tspan><tspan x="0" dy="2.9">интеграция</tspan><tspan x="0" dy="2.9">с внешними</tspan><tspan x="0" dy="2.9">системами</tspan></text></g>
<g id="g_ob1" transform="translate(1458.5,257)"><rect class="b" x="-17.5" width="35" height="21" rx="2" fill="url(#gO)"/><text class="h" x="-16" y="3.2">Обоснование</text><text class="t" y="9.1"><tspan x="0">В текущих</tspan><tspan x="0" dy="2.9">системах нет</tspan><tspan x="0" dy="2.9">единых</tspan><tspan x="0" dy="2.9">интерфейсов</tspan></text></g>
<g id="g_ob2" transform="translate(1500.5,250)"><rect class="b" x="-21.5" width="43" height="35" rx="2" fill="url(#gO)"/><text class="h" x="-20" y="3.2">Обоснование</text><text class="t" y="13.2"><tspan x="0">Наличие множества</tspan><tspan x="0" dy="2.9">разрозненных систем</tspan><tspan x="0" dy="2.9">с различными</tspan><tspan x="0" dy="2.9">форматами данных</tspan><tspan x="0" dy="2.9">затрудняет обмен</tspan><tspan x="0" dy="2.9">информацией</tspan></text></g>
<g id="g_arg1" transform="translate(1354.5,294)"><rect class="b" x="-21.5" width="43" height="33" rx="2" fill="url(#gA)"/><text class="h" x="-20" y="3.2">Аргумент</text><text class="t" y="12.2"><tspan x="0">Снижение затрат</tspan><tspan x="0" dy="2.9">на сопровождение</tspan><tspan x="0" dy="2.9">интеграционных</tspan><tspan x="0" dy="2.9">решений за счёт</tspan><tspan x="0" dy="2.9">единой шины</tspan><tspan x="0" dy="2.9">данных</tspan></text></g>
<g id="g_act" transform="translate(1391.5,297)"><rect class="b" x="-11.5" width="23" height="29" rx="2" fill="url(#gD)"/><text class="h" x="-10" y="3.2">Действие</text><text class="t" y="11.6"><tspan x="0">Создать</tspan><tspan x="0" dy="2.9">шину</tspan><tspan x="0" dy="2.9">интеграции</tspan><tspan x="0" dy="2.9">данных</tspan><tspan x="0" dy="2.9">платформы</tspan></text></g>
<g id="g_arg2" transform="translate(1423,297)"><rect class="b" x="-16" width="32" height="28" rx="2" fill="url(#gA)"/><text class="h" x="-14.5" y="3.2">Аргумент</text><text class="t" y="12.6"><tspan x="0">Обеспечение</tspan><tspan x="0" dy="2.9">совместимости</tspan><tspan x="0" dy="2.9">данных между</tspan><tspan x="0" dy="2.9">системами</tspan></text></g>
<g id="g_arg3" transform="translate(1457.5,297)"><rect class="b" x="-15.5" width="31" height="28" rx="2" fill="url(#gA)"/><text class="h" x="-14" y="3.2">Аргумент</text><text class="t" y="12.6"><tspan x="0">Возможность</tspan><tspan x="0" dy="2.9">подключения</tspan><tspan x="0" dy="2.9">новых систем</tspan><tspan x="0" dy="2.9">без доработок</tspan></text></g>
<g id="g_arg4" transform="translate(1493,297)"><rect class="b" x="-16" width="32" height="29" rx="2" fill="url(#gA)"/><text class="h" x="-14.5" y="3.2">Аргумент</text><text class="t" y="11.6"><tspan x="0">Повышение</tspan><tspan x="0" dy="2.9">надёжности</tspan><tspan x="0" dy="2.9">обмена</tspan><tspan x="0" dy="2.9">данными</tspan><tspan x="0" dy="2.9">между системами</tspan></text></g>
<g id="g_prj1" transform="translate(1360.5,339)"><rect class="b" x="-11.5" width="23" height="24" rx="2" fill="url(#gP)"/><text class="h hw" x="-10" y="3.2">Проект</text><text class="t" y="12"><tspan x="0">Разработка</tspan><tspan x="0" dy="2.9">интеграционных</tspan><tspan x="0" dy="2.9">сервисов</tspan></text></g>
<g id="g_prj2" transform="translate(1391.5,338)"><rect class="b" x="-16.5" width="33" height="28" rx="2" fill="url(#gP)"/><text class="h hw" x="-15" y="3.2">Проект</text><text class="t" y="12.6"><tspan x="0">Создание единой</tspan><tspan x="0" dy="2.9">шины данных</tspan><tspan x="0" dy="2.9">и мониторинга</tspan><tspan x="0" dy="2.9">интеграции</tspan></text></g>
<g id="g_prj3" transform="translate(1425.5,339)"><rect class="b" x="-13.5" width="27" height="25" rx="2" fill="url(#gP)"/><text class="h hw" x="-12" y="3.2">Проект</text><text class="t" y="11.1"><tspan x="0">Разработка</tspan><tspan x="0" dy="2.9">API для</tspan><tspan x="0" dy="2.9">внешних</tspan><tspan x="0" dy="2.9">систем</tspan></text></g>

<g id="h_res" transform="translate(34.5,417)"><rect class="b" x="-15.5" width="31" height="25" rx="2" fill="url(#gR)"/><text class="h" x="-14" y="3.2">Результат</text><text class="t" y="9.6"><tspan x="0">Выявлены и</tspan><tspan x="0" dy="2.9">внесены</tspan><tspan x="0" dy="2.9">объекты</tspan><tspan x="0" dy="2.9">инфраструктуры</tspan><tspan x="0" dy="2.9">в ЦМД</tspan></text></g>
<g id="h_act" transform="translate(35.5,450)"><rect class="b" x="-13.5" width="27" height="22" rx="2" fill="url(#gD)"/><text class="h" x="-12" y="3.2">Действие</text><text class="t" y="9.6"><tspan x="0">Провести</tspan><tspan x="0" dy="2.9">инвентаризацию</tspan><tspan x="0" dy="2.9">объектов</tspan><tspan x="0" dy="2.9">учёта</tspan></text></g>
<g id="h_prj" transform="translate(35,481)"><rect class="b" x="-16" width="32" height="17" rx="2" fill="url(#gP)"/><text class="h hw" x="-14.5" y="3.2">Проект</text><text class="t f32" y="9.8"><tspan x="0">Инвентаризация</tspan><tspan x="0" dy="3.6">учёта</tspan></text></g>
<g id="i_res" transform="translate(76.5,417)"><rect class="b" x="-10.5" width="21" height="16" rx="2" fill="url(#gR)"/><text class="h" x="-9" y="3.2">Результат</text><text class="t f4" y="9.1"><tspan x="0">Модель</tspan><tspan x="0" dy="4.4">учёта</tspan></text></g>
<g id="i_act" transform="translate(76.5,445)"><rect class="b" x="-11.5" width="23" height="17" rx="2" fill="url(#gD)"/><text class="h" x="-10" y="3.2">Действие</text><text class="t" y="7.1"><tspan x="0">Создать</tspan><tspan x="0" dy="2.9">модель данных</tspan><tspan x="0" dy="2.9">для учёта</tspan><tspan x="0" dy="2.9">объектов</tspan></text></g>
<g id="i_tpl" transform="translate(76,479)"><rect class="b" x="-12" width="24" height="17" rx="2" fill="url(#gT)"/><text class="h hw" x="-10.5" y="3.2">Шаблон</text><text class="t f36" y="9.6"><tspan x="0">Процессы</tspan><tspan x="0" dy="4">учёта</tspan></text></g>
<g id="j_res" transform="translate(116.5,413)"><rect class="b" x="-10.5" width="21" height="27" rx="2" fill="url(#gR)"/><text class="h" x="-9" y="3.2">Результат</text><text class="t f32" y="13"><tspan x="0">Данные</tspan><tspan x="0" dy="3.6">учёта</tspan><tspan x="0" dy="3.6">субъекта</tspan></text></g>
<g id="j_act" transform="translate(116,445)"><rect class="b" x="-11" width="22" height="22" rx="2" fill="url(#gD)"/><text class="h" x="-9.5" y="3.2">Действие</text><text class="t" y="9.6"><tspan x="0">Создать</tspan><tspan x="0" dy="2.9">реестр</tspan><tspan x="0" dy="2.9">учётных</tspan><tspan x="0" dy="2.9">данных</tspan></text></g>
<g id="j_prj" transform="translate(116.5,475)"><rect class="b" x="-14.5" width="29" height="24" rx="2" fill="url(#gP)"/><text class="h hw" x="-13" y="3.2">Проект</text><text class="t" y="10.6"><tspan x="0">Создание единого</tspan><tspan x="0" dy="2.9">реестра данных</tspan><tspan x="0" dy="2.9">учётной</tspan><tspan x="0" dy="2.9">информации</tspan></text></g>
<g id="k_res" transform="translate(233.5,402)"><rect class="b" x="-13.5" width="27" height="33" rx="2" fill="url(#gR)"/><text class="h" x="-12" y="3.2">Результат</text><text class="t" y="12.2"><tspan x="0">Учёт объектов</tspan><tspan x="0" dy="2.9">обеспечивает</tspan><tspan x="0" dy="2.9">своевременное</tspan><tspan x="0" dy="2.9">отражение</tspan><tspan x="0" dy="2.9">изменений</tspan><tspan x="0" dy="2.9">в системе</tspan></text></g>
<g id="k_act" transform="translate(233.5,447)"><rect class="b" x="-14.5" width="29" height="31" rx="2" fill="url(#gD)"/><text class="h" x="-13" y="3.2">Действие</text><text class="t" y="11.2"><tspan x="0">Обеспечить</tspan><tspan x="0" dy="2.9">исполнение</tspan><tspan x="0" dy="2.9">процессов</tspan><tspan x="0" dy="2.9">учёта в</tspan><tspan x="0" dy="2.9">соответствии с</tspan><tspan x="0" dy="2.9">регламентом</tspan></text></g>
<g id="k_prj" transform="translate(233,487)"><rect class="b" x="-15" width="30" height="27" rx="2" fill="url(#gP)"/><text class="h hw" x="-13.5" y="3.2">Проект</text><text class="t" y="12.1"><tspan x="0">Разработка</tspan><tspan x="0" dy="2.9">регламентов</tspan><tspan x="0" dy="2.9">учёта объектов</tspan><tspan x="0" dy="2.9">инфраструктуры</tspan></text></g>
<g id="l_res" transform="translate(281,411)"><rect class="b" x="-19" width="38" height="29" rx="2" fill="url(#gR)"/><text class="h" x="-17.5" y="3.2">Результат</text><text class="t" y="13.1"><tspan x="0">Выбрана архитектура</tspan><tspan x="0" dy="2.9">решения, обеспечивающая</tspan><tspan x="0" dy="2.9">масштабируемость</tspan><tspan x="0" dy="2.9">и интеграцию</tspan></text></g>
<g id="l_act" transform="translate(281.5,448)"><rect class="b" x="-15.5" width="31" height="17" rx="2" fill="url(#gD)"/><text class="h" x="-14" y="3.2">Действие</text><text class="t" y="8.5"><tspan x="0">Выбор архитектуры</tspan><tspan x="0" dy="2.9">информационной</tspan><tspan x="0" dy="2.9">платформы</tspan></text></g>
<g id="l_prj" transform="translate(281,475)"><rect class="b" x="-16" width="32" height="28" rx="2" fill="url(#gP)"/><text class="h hw" x="-14.5" y="3.2">Проект</text><text class="t" y="9.7"><tspan x="0">Создание</tspan><tspan x="0" dy="2.9">информационной</tspan><tspan x="0" dy="2.9">платформы ЦМД</tspan><tspan x="0" dy="2.9">на основе</tspan><tspan x="0" dy="2.9">выбранной</tspan><tspan x="0" dy="2.9">архитектуры</tspan></text></g>

<g id="m1_1" transform="translate(480,465)"><rect class="b" x="-12" width="24" height="21" rx="2" fill="url(#gT)"/><text class="h hw" x="-10.5" y="3.2">Шаблон</text><text class="t f28" y="10.2"><tspan x="0">Бюджет</tspan><tspan x="0" dy="3.2">эксплуатации</tspan><tspan x="0" dy="3.2">ремонтов</tspan></text></g>
<g id="m1_2" transform="translate(506.5,466)"><rect class="b" x="-10.5" width="21" height="18" rx="2" fill="url(#gT)"/><text class="h hw" x="-9" y="3.2">Шаблон</text><text class="t f32" y="10.3"><tspan x="0">Бюджет</tspan><tspan x="0" dy="3.6">развития</tspan></text></g>
<g id="m1_3" transform="translate(532,464)"><rect class="b" x="-11" width="22" height="23" rx="2" fill="url(#gT)"/><text class="h hw" x="-9.5" y="3.2">Шаблон</text><text class="t" y="10.1"><tspan x="0">Бюджет</tspan><tspan x="0" dy="2.9">обеспечения</tspan><tspan x="0" dy="2.9">строительного</tspan><tspan x="0" dy="2.9">процесса</tspan></text></g>
<g id="m1_4" transform="translate(561,467)"><rect class="b" x="-13" width="26" height="17" rx="2" fill="url(#gT)"/><text class="h hw" x="-11.5" y="3.2">Шаблон</text><text class="t f32" y="9.8"><tspan x="0">Бюджет</tspan><tspan x="0" dy="3.6">содержания</tspan></text></g>
<g id="m_2" transform="translate(597.5,453)"><rect class="b" x="-14.5" width="29" height="23" rx="2" fill="url(#gT)"/><text class="h hw" x="-13" y="3.2">Шаблон</text><text class="t" y="10.1"><tspan x="0">Согласование</tspan><tspan x="0" dy="2.9">бюджетов</tspan><tspan x="0" dy="2.9">подрядных</tspan><tspan x="0" dy="2.9">организаций</tspan></text></g>
<g id="m_3" transform="translate(629.5,450)"><rect class="b" x="-13.5" width="27" height="29" rx="2" fill="url(#gT)"/><text class="h hw" x="-12" y="3.2">Шаблон</text><text class="t" y="11.6"><tspan x="0">Формирование</tspan><tspan x="0" dy="2.9">титульного</tspan><tspan x="0" dy="2.9">списка</tspan><tspan x="0" dy="2.9">объектов</tspan><tspan x="0" dy="2.9">ремонта</tspan></text></g>
<g id="m_4" transform="translate(659.5,454)"><rect class="b" x="-11.5" width="23" height="20" rx="2" fill="url(#gT)"/><text class="h hw" x="-10" y="3.2">Шаблон</text><text class="t f28" y="9.7"><tspan x="0">Публичные</tspan><tspan x="0" dy="3.2">сводные</tspan><tspan x="0" dy="3.2">отчёты</tspan></text></g>
<g id="m_5" transform="translate(688.5,452)"><rect class="b" x="-13.5" width="27" height="25" rx="2" fill="url(#gT)"/><text class="h hw" x="-12" y="3.2">Шаблон</text><text class="t" y="11.1"><tspan x="0">Работа с</tspan><tspan x="0" dy="2.9">подрядными</tspan><tspan x="0" dy="2.9">организациями</tspan><tspan x="0" dy="2.9">по исполнению</tspan></text></g>

<g id="n_res" transform="translate(744.5,427)"><rect class="b" x="-11.5" width="23" height="30" rx="2" fill="url(#gR)"/><text class="h" x="-10" y="3.2">Результат</text><text class="t" y="10.7"><tspan x="0">Повышение</tspan><tspan x="0" dy="2.9">уровня</tspan><tspan x="0" dy="2.9">качества</tspan><tspan x="0" dy="2.9">информации</tspan><tspan x="0" dy="2.9">о сети</tspan><tspan x="0" dy="2.9">дорог</tspan></text></g>
<g id="n_ob" transform="translate(780,427)"><rect class="b" x="-19" width="38" height="31" rx="2" fill="url(#gO)"/><text class="h" x="-17.5" y="3.2">Обоснование</text><text class="t" y="11.2"><tspan x="0">Данные о состоянии</tspan><tspan x="0" dy="2.9">сети собираются</tspan><tspan x="0" dy="2.9">вручную и</tspan><tspan x="0" dy="2.9">несвоевременно, что</tspan><tspan x="0" dy="2.9">снижает качество</tspan><tspan x="0" dy="2.9">решений</tspan></text></g>
<g id="n_act" transform="translate(728.5,468)"><rect class="b" x="-11.5" width="23" height="33" rx="2" fill="url(#gD)"/><text class="h" x="-10" y="3.2">Действие</text><text class="t" y="10.7"><tspan x="0">Ведение</tspan><tspan x="0" dy="2.9">процессов</tspan><tspan x="0" dy="2.9">учёта</tspan><tspan x="0" dy="2.9">объектов</tspan><tspan x="0" dy="2.9">на этапах</tspan><tspan x="0" dy="2.9">жизненного</tspan><tspan x="0" dy="2.9">цикла</tspan></text></g>
<g id="n_arg" transform="translate(760.5,468)"><rect class="b" x="-16.5" width="33" height="34" rx="2" fill="url(#gA)"/><text class="h" x="-15" y="3.2">Аргумент</text><text class="t" y="11.2"><tspan x="0">Своевременная</tspan><tspan x="0" dy="2.9">актуализация</tspan><tspan x="0" dy="2.9">данных об</tspan><tspan x="0" dy="2.9">объектах</tspan><tspan x="0" dy="2.9">повышает</tspan><tspan x="0" dy="2.9">качество</tspan><tspan x="0" dy="2.9">решений</tspan></text></g>

<g id="o_res" transform="translate(873.5,408)"><rect class="b" x="-14.5" width="29" height="34" rx="2" fill="url(#gR)"/><text class="h" x="-13" y="3.2">Результат</text><text class="t" y="12.7"><tspan x="0">Сформирован</tspan><tspan x="0" dy="2.9">график</tspan><tspan x="0" dy="2.9">производства</tspan><tspan x="0" dy="2.9">работ на</tspan><tspan x="0" dy="2.9">основе</tspan><tspan x="0" dy="2.9">ЦМД</tspan></text></g>
<g id="o_ob" transform="translate(910.5,410)"><rect class="b" x="-19.5" width="39" height="32" rx="2" fill="url(#gO)"/><text class="h" x="-18" y="3.2">Обоснование</text><text class="t" y="11.7"><tspan x="0">Отсутствие единого</tspan><tspan x="0" dy="2.9">планирования работ</tspan><tspan x="0" dy="2.9">приводит к срывам</tspan><tspan x="0" dy="2.9">сроков и</tspan><tspan x="0" dy="2.9">перерасходу</tspan><tspan x="0" dy="2.9">средств</tspan></text></g>
<g id="o_act" transform="translate(832.5,453)"><rect class="b" x="-19.5" width="39" height="29" rx="2" fill="url(#gD)"/><text class="h" x="-18" y="3.2">Действие</text><text class="t" y="10.2"><tspan x="0">Внедрить планирование</tspan><tspan x="0" dy="2.9">работ на основе</tspan><tspan x="0" dy="2.9">проектного дня с</tspan><tspan x="0" dy="2.9">использованием</tspan><tspan x="0" dy="2.9">данных</tspan><tspan x="0" dy="2.9">ЦМД</tspan></text></g>
<g id="o_arg1" transform="translate(872,452)"><rect class="b" x="-15" width="30" height="31" rx="2" fill="url(#gA)"/><text class="h" x="-13.5" y="3.2">Аргумент</text><text class="t" y="12.6"><tspan x="0">Повышение</tspan><tspan x="0" dy="2.9">точности</tspan><tspan x="0" dy="2.9">планирования</tspan><tspan x="0" dy="2.9">работ</tspan><tspan x="0" dy="2.9">подрядчиков</tspan></text></g>
<g id="o_arg2" transform="translate(907.5,452)"><rect class="b" x="-15.5" width="31" height="31" rx="2" fill="url(#gA)"/><text class="h" x="-14" y="3.2">Аргумент</text><text class="t" y="12.6"><tspan x="0">Сокращение</tspan><tspan x="0" dy="2.9">простоев</tspan><tspan x="0" dy="2.9">техники и</tspan><tspan x="0" dy="2.9">персонала</tspan><tspan x="0" dy="2.9">на объектах</tspan></text></g>
<g id="o_prj" transform="translate(832.5,492)"><rect class="b" x="-13.5" width="27" height="25" rx="2" fill="url(#gP)"/><text class="h hw" x="-12" y="3.2">Проект</text><text class="t" y="9.6"><tspan x="0">Внедрение</tspan><tspan x="0" dy="2.9">планирования</tspan><tspan x="0" dy="2.9">по проектному</tspan><tspan x="0" dy="2.9">дню</tspan><tspan x="0" dy="2.9">(ЦМД)</tspan></text></g>

<g id="p_res" transform="translate(1001.5,416)"><rect class="b" x="-12.5" width="25" height="21" rx="2" fill="url(#gR)"/><text class="h" x="-11" y="3.2">Результат</text><text class="t" y="9.1"><tspan x="0">Сокращение</tspan><tspan x="0" dy="2.9">сроков</tspan><tspan x="0" dy="2.9">выполнения</tspan><tspan x="0" dy="2.9">работ</tspan></text></g>
<g id="p_ob" transform="translate(1032.5,411)"><rect class="b" x="-14.5" width="29" height="31" rx="2" fill="url(#gO)"/><text class="h" x="-13" y="3.2">Обоснование</text><text class="t" y="12.6"><tspan x="0">Высокая</tspan><tspan x="0" dy="2.9">длительность</tspan><tspan x="0" dy="2.9">выполнения</tspan><tspan x="0" dy="2.9">работ</tspan><tspan x="0" dy="2.9">подрядчиками</tspan></text></g>
<g id="p_act" transform="translate(961,452)"><rect class="b" x="-17" width="34" height="31" rx="2" fill="url(#gD)"/><text class="h" x="-15.5" y="3.2">Действие</text><text class="t" y="11.2"><tspan x="0">Обеспечить</tspan><tspan x="0" dy="2.9">контроль</tspan><tspan x="0" dy="2.9">выполнения работ</tspan><tspan x="0" dy="2.9">с использованием</tspan><tspan x="0" dy="2.9">мобильных</tspan><tspan x="0" dy="2.9">средств</tspan></text></g>
<g id="p_arg1" transform="translate(1002,455)"><rect class="b" x="-19" width="38" height="26" rx="2" fill="url(#gA)"/><text class="h" x="-17.5" y="3.2">Аргумент</text><text class="t" y="10.1"><tspan x="0">Оперативный контроль</tspan><tspan x="0" dy="2.9">позволяет снизить</tspan><tspan x="0" dy="2.9">отклонения от</tspan><tspan x="0" dy="2.9">графика</tspan><tspan x="0" dy="2.9">работ</tspan></text></g>
<g id="p_arg2" transform="translate(1046,455)"><rect class="b" x="-21" width="42" height="26" rx="2" fill="url(#gA)"/><text class="h" x="-19.5" y="3.2">Аргумент</text><text class="t" y="10.1"><tspan x="0">Фиксация фактических</tspan><tspan x="0" dy="2.9">объёмов работ в ЦМД</tspan><tspan x="0" dy="2.9">обеспечивает</tspan><tspan x="0" dy="2.9">достоверность</tspan><tspan x="0" dy="2.9">отчётности</tspan></text></g>
<g id="p_prj" transform="translate(961.5,492)"><rect class="b" x="-15.5" width="31" height="26" rx="2" fill="url(#gP)"/><text class="h hw" x="-14" y="3.2">Проект</text><text class="t" y="10.1"><tspan x="0">Внедрение</tspan><tspan x="0" dy="2.9">мобильного</tspan><tspan x="0" dy="2.9">контроля</tspan><tspan x="0" dy="2.9">выполнения</tspan><tspan x="0" dy="2.9">работ</tspan></text></g>

<g id="q_org" transform="translate(1124,432)"><rect class="b" x="-12" width="24" height="19" rx="2" fill="url(#gY)"/><text class="h" x="-10.5" y="3.2">Организация</text><text class="t f36" y="10.6"><tspan x="0">Дирекция</tspan><tspan x="0" dy="4">ДИ</tspan></text></g>
<g id="q_f1" transform="translate(1094.5,464)"><rect class="b" x="-14.5" width="29" height="13" rx="2" fill="url(#gF)"/><text class="h" x="-13" y="3.2">Функция</text><text class="t f3" y="9.7">Инжиниринг</text></g>
<g id="q_f2" transform="translate(1124,464)"><rect class="b" x="-10" width="20" height="14" rx="2" fill="url(#gF)"/><text class="h" x="-8.5" y="3.2">Функция</text><text class="t f34" y="10.3">Сервис</text></g>
<g id="q_f3" transform="translate(1148,460)"><rect class="b" x="-10" width="20" height="22" rx="2" fill="url(#gF)"/><text class="h" x="-8.5" y="3.2">Функция</text><text class="t f3" y="10.6"><tspan x="0">Ведение</tspan><tspan x="0" dy="3.4">учёта</tspan><tspan x="0" dy="3.4">активов</tspan></text></g>

<g id="r_org" transform="translate(1252.5,416)"><rect class="b" x="-11.5" width="23" height="12" rx="2" fill="url(#gY)"/><text class="h" x="-10" y="3.2">Организация</text><text class="t f4" y="9.6">ДТиС</text></g>
<g id="r_f1" transform="translate(1194.5,438)"><rect class="b" x="-9.5" width="19" height="23" rx="2" fill="url(#gF)"/><text class="h" x="-8" y="3.2">Функция</text><text class="t" y="10.1"><tspan x="0">Владение</tspan><tspan x="0" dy="2.9">данными</tspan><tspan x="0" dy="2.9">сети</tspan><tspan x="0" dy="2.9">дорог</tspan></text></g>
<g id="r_f2" transform="translate(1253.5,440)"><rect class="b" x="-12.5" width="25" height="16" rx="2" fill="url(#gF)"/><text class="h" x="-11" y="3.2">Функция</text><text class="t" y="8"><tspan x="0">Владение</tspan><tspan x="0" dy="2.9">данными</tspan><tspan x="0" dy="2.9">проектов ЦМД</tspan></text></g>
<g id="r_f3" transform="translate(1304,443)"><rect class="b" x="-14" width="28" height="14" rx="2" fill="url(#gF)"/><text class="h" x="-12.5" y="3.2">Функция</text><text class="t f34" y="10.3">Регулятор</text></g>
<g id="r_t1" transform="translate(1194.5,470)"><rect class="b" x="-22.5" width="45" height="28" rx="2" fill="url(#gT)"/><text class="h hw" x="-21" y="3.2">Шаблон</text><text class="t" y="9.7"><tspan x="0">Выбор бизнес-процессов,</tspan><tspan x="0" dy="2.9">регламентирующих</tspan><tspan x="0" dy="2.9">обработку данных</tspan><tspan x="0" dy="2.9">и поддержание</tspan><tspan x="0" dy="2.9">актуальности ЦМД</tspan><tspan x="0" dy="2.9">в организации</tspan></text></g>
<g id="r_t2" transform="translate(1236,476)"><rect class="b" x="-15" width="30" height="17" rx="2" fill="url(#gT)"/><text class="h hw" x="-13.5" y="3.2">Шаблон</text><text class="t f26" y="9.8"><tspan x="0">Процессы</tspan><tspan x="0" dy="3">энергоресурсов</tspan></text></g>
<g id="r_p1" transform="translate(1269.5,473)"><rect class="b" x="-13.5" width="27" height="22" rx="2" fill="url(#gP)"/><text class="h hw" x="-12" y="3.2">Проект</text><text class="t" y="9.6"><tspan x="0">Выбор</tspan><tspan x="0" dy="2.9">приоритетных</tspan><tspan x="0" dy="2.9">направлений</tspan><tspan x="0" dy="2.9">развития</tspan></text></g>
<g id="r_t3" transform="translate(1305,473)"><rect class="b" x="-16" width="32" height="20" rx="2" fill="url(#gT)"/><text class="h hw" x="-14.5" y="3.2">Шаблон</text><text class="t" y="10"><tspan x="0">Процессы</tspan><tspan x="0" dy="2.9">регулирования</tspan><tspan x="0" dy="2.9">и надзора</tspan></text></g>

<g id="s1_1" transform="translate(437,582)"><rect class="b" x="-14" width="28" height="31" rx="2" fill="url(#gT)"/><text class="h hw" x="-12.5" y="3.2">Шаблон</text><text class="t" y="11.2"><tspan x="0">Определение</tspan><tspan x="0" dy="2.9">набора</tspan><tspan x="0" dy="2.9">мероприятий</tspan><tspan x="0" dy="2.9">и порядка их</tspan><tspan x="0" dy="2.9">выполнения</tspan><tspan x="0" dy="2.9">для проекта</tspan></text></g>
<g id="s1_2" transform="translate(465,583)"><rect class="b" x="-11" width="22" height="29" rx="2" fill="url(#gT)"/><text class="h hw" x="-9.5" y="3.2">Шаблон</text><text class="t" y="11.6"><tspan x="0">Определение</tspan><tspan x="0" dy="2.9">типов</tspan><tspan x="0" dy="2.9">мероприятий</tspan><tspan x="0" dy="2.9">SLA</tspan><tspan x="0" dy="2.9">и KPI</tspan></text></g>
<g id="s1_3" transform="translate(495,588)"><rect class="b" x="-15" width="30" height="19" rx="2" fill="url(#gT)"/><text class="h hw" x="-13.5" y="3.2">Шаблон</text><text class="t" y="9.5"><tspan x="0">Определение</tspan><tspan x="0" dy="2.9">условий и порядка</tspan><tspan x="0" dy="2.9">подготовки</tspan></text></g>
<g id="s_1" transform="translate(532,574)"><rect class="b" x="-13" width="26" height="28" rx="2" fill="url(#gT)"/><text class="h hw" x="-11.5" y="3.2">Шаблон</text><text class="t" y="9.7"><tspan x="0">Учёт, анализ</tspan><tspan x="0" dy="2.9">и</tspan><tspan x="0" dy="2.9">контроль</tspan><tspan x="0" dy="2.9">результатов</tspan><tspan x="0" dy="2.9">проекта для</tspan><tspan x="0" dy="2.9">последующих</tspan></text></g>
<g id="s_2" transform="translate(561.5,579)"><rect class="b" x="-13.5" width="27" height="17" rx="2" fill="url(#gT)"/><text class="h hw" x="-12" y="3.2">Шаблон</text><text class="t f3" y="9.8"><tspan x="0">Присвоение</tspan><tspan x="0" dy="3.4">проекта</tspan></text></g>
<g id="s_3" transform="translate(594.5,579)"><rect class="b" x="-13.5" width="27" height="17" rx="2" fill="url(#gT)"/><text class="h hw" x="-12" y="3.2">Шаблон</text><text class="t f28" y="9.8"><tspan x="0">Приёмка в</tspan><tspan x="0" dy="3.2">эксплуатацию</tspan></text></g>
<g id="s_4" transform="translate(623.5,577)"><rect class="b" x="-10.5" width="21" height="22" rx="2" fill="url(#gT)"/><text class="h hw" x="-9" y="3.2">Шаблон</text><text class="t" y="9.6"><tspan x="0">Обработка</tspan><tspan x="0" dy="2.9">и контроль</tspan><tspan x="0" dy="2.9">исполнения</tspan><tspan x="0" dy="2.9">графиков</tspan></text></g>
<g id="s_5" transform="translate(652,578)"><rect class="b" x="-13" width="26" height="18" rx="2" fill="url(#gT)"/><text class="h hw" x="-11.5" y="3.2">Шаблон</text><text class="t f26" y="8.8"><tspan x="0">Составление</tspan><tspan x="0" dy="3">рабочих</tspan><tspan x="0" dy="3">графиков</tspan></text></g>
<g id="s_6" transform="translate(680.5,578)"><rect class="b" x="-12.5" width="25" height="20" rx="2" fill="url(#gT)"/><text class="h hw" x="-11" y="3.2">Шаблон</text><text class="t f26" y="9.8"><tspan x="0">Составление</tspan><tspan x="0" dy="3">рабочей</tspan><tspan x="0" dy="3">документации</tspan></text></g>
<g id="s_7" transform="translate(712,579)"><rect class="b" x="-15" width="30" height="17" rx="2" fill="url(#gT)"/><text class="h hw" x="-13.5" y="3.2">Шаблон</text><text class="t f3" y="9.8"><tspan x="0">Закупка</tspan><tspan x="0" dy="3.4">оборудования</tspan></text></g>
<g id="s_8" transform="translate(744.5,579)"><rect class="b" x="-13.5" width="27" height="18" rx="2" fill="url(#gT)"/><text class="h hw" x="-12" y="3.2">Шаблон</text><text class="t f3" y="10.3"><tspan x="0">Закупка</tspan><tspan x="0" dy="3.4">материалов</tspan></text></g>
<g id="s_9" transform="translate(774,578)"><rect class="b" x="-13" width="26" height="20" rx="2" fill="url(#gT)"/><text class="h hw" x="-11.5" y="3.2">Шаблон</text><text class="t f26" y="9.8"><tspan x="0">Проведение</tspan><tspan x="0" dy="3">конкурсов</tspan><tspan x="0" dy="3">подрядчиков</tspan></text></g>
<g id="s_10" transform="translate(803,578)"><rect class="b" x="-13" width="26" height="20" rx="2" fill="url(#gT)"/><text class="h hw" x="-11.5" y="3.2">Шаблон</text><text class="t f26" y="9.8"><tspan x="0">Составление</tspan><tspan x="0" dy="3">проектной</tspan><tspan x="0" dy="3">документации</tspan></text></g>
<g id="s_11" transform="translate(831.5,574)"><rect class="b" x="-13.5" width="27" height="28" rx="2" fill="url(#gT)"/><text class="h hw" x="-12" y="3.2">Шаблон</text><text class="t" y="9.7"><tspan x="0">Контроль</tspan><tspan x="0" dy="2.9">выполнения</tspan><tspan x="0" dy="2.9">работ и</tspan><tspan x="0" dy="2.9">мониторинг</tspan><tspan x="0" dy="2.9">исполнения</tspan><tspan x="0" dy="2.9">договоров</tspan></text></g>
<g id="s_12" transform="translate(861,578)"><rect class="b" x="-12" width="24" height="18" rx="2" fill="url(#gT)"/><text class="h hw" x="-10.5" y="3.2">Шаблон</text><text class="t f3" y="10.3"><tspan x="0">Продление</tspan><tspan x="0" dy="3.4">проекта</tspan></text></g>
<g id="s_13" transform="translate(891.5,574)"><rect class="b" x="-13.5" width="27" height="28" rx="2" fill="url(#gT)"/><text class="h hw" x="-12" y="3.2">Шаблон</text><text class="t" y="9.7"><tspan x="0">Составление</tspan><tspan x="0" dy="2.9">графика</tspan><tspan x="0" dy="2.9">финансирования</tspan><tspan x="0" dy="2.9">и контроль</tspan><tspan x="0" dy="2.9">исполнения</tspan><tspan x="0" dy="2.9">договоров</tspan></text></g>
<g id="s2_1" transform="translate(928,587)"><rect class="b" x="-14" width="28" height="20" rx="2" fill="url(#gT)"/><text class="h hw" x="-12.5" y="3.2">Шаблон</text><text class="t f28" y="9.7"><tspan x="0">Ведение</tspan><tspan x="0" dy="3.2">деятельности</tspan><tspan x="0" dy="3.2">работ</tspan></text></g>
<g id="s2_2" transform="translate(960.5,588)"><rect class="b" x="-14.5" width="29" height="18" rx="2" fill="url(#gT)"/><text class="h hw" x="-13" y="3.2">Шаблон</text><text class="t f32" y="10.3"><tspan x="0">Составление</tspan><tspan x="0" dy="3.6">ВОР</tspan></text></g>
<g id="s2_3" transform="translate(993.5,588)"><rect class="b" x="-15.5" width="31" height="17" rx="2" fill="url(#gT)"/><text class="h hw" x="-14" y="3.2">Шаблон</text><text class="t f26" y="9.8"><tspan x="0">Ресурсирование</tspan><tspan x="0" dy="3">по ресурсам</tspan></text></g>
<g id="s2_4" transform="translate(1026.5,587)"><rect class="b" x="-12.5" width="25" height="20" rx="2" fill="url(#gT)"/><text class="h hw" x="-11" y="3.2">Шаблон</text><text class="t f26" y="9.8"><tspan x="0">Определение</tspan><tspan x="0" dy="3">критической</tspan><tspan x="0" dy="3">цепи</tspan></text></g>
<g id="s2_5" transform="translate(1055.5,587)"><rect class="b" x="-12.5" width="25" height="20" rx="2" fill="url(#gT)"/><text class="h hw" x="-11" y="3.2">Шаблон</text><text class="t" y="10"><tspan x="0">Выбор</tspan><tspan x="0" dy="2.9">методов</tspan><tspan x="0" dy="2.9">планирования</tspan></text></g>
<g id="s2_6" transform="translate(1086.5,588)"><rect class="b" x="-14.5" width="29" height="18" rx="2" fill="url(#gT)"/><text class="h hw" x="-13" y="3.2">Шаблон</text><text class="t f32" y="10.3"><tspan x="0">Определение</tspan><tspan x="0" dy="3.6">буферов</tspan></text></g>
<g id="s3_1" transform="translate(1126.5,587)"><rect class="b" x="-12.5" width="25" height="20" rx="2" fill="url(#gT)"/><text class="h hw" x="-11" y="3.2">Шаблон</text><text class="t f26" y="9.8"><tspan x="0">Определение</tspan><tspan x="0" dy="3">уровня</tspan><tspan x="0" dy="3">рисков</tspan></text></g>
<g id="s3_2" transform="translate(1156,587)"><rect class="b" x="-13" width="26" height="21" rx="2" fill="url(#gT)"/><text class="h hw" x="-11.5" y="3.2">Шаблон</text><text class="t" y="9.1"><tspan x="0">Регулирование</tspan><tspan x="0" dy="2.9">состава</tspan><tspan x="0" dy="2.9">критичной</tspan><tspan x="0" dy="2.9">инфраструктуры</tspan></text></g>
<g id="s3_3" transform="translate(1185.5,586)"><rect class="b" x="-12.5" width="25" height="22" rx="2" fill="url(#gT)"/><text class="h hw" x="-11" y="3.2">Шаблон</text><text class="t" y="9.6"><tspan x="0">Обеспечение</tspan><tspan x="0" dy="2.9">состава</tspan><tspan x="0" dy="2.9">критичной</tspan><tspan x="0" dy="2.9">инфраструктуры</tspan></text></g>
</g>
</svg>
